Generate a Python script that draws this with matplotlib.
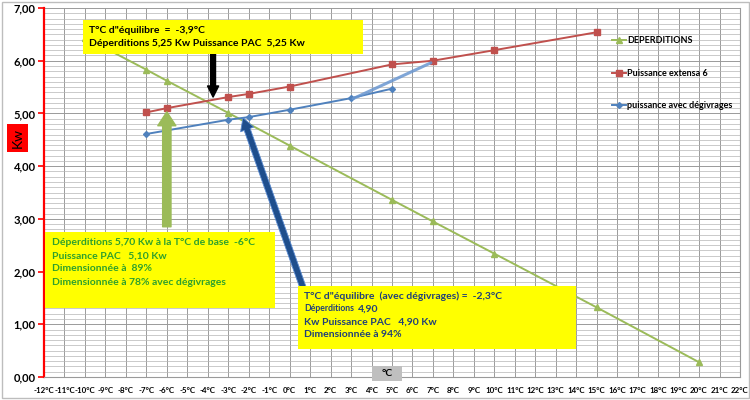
import numpy as np
import matplotlib.pyplot as plt
from matplotlib.patches import Rectangle
from matplotlib.ticker import MultipleLocator, FuncFormatter

plt.rcParams['font.family'] = ['Lato', 'DejaVu Sans']

# Données
t_deperd = [-10, -7, -6, -3, 0, 5, 7, 10, 15, 20]
deperditions = [6.44, 5.83, 5.62, 5.01, 4.39, 3.36, 2.95, 2.34, 1.32, 0.28]

t_pac = [-7, -6, -3, -2, 0, 5, 7, 10, 15]
puissance_pac = [5.02, 5.10, 5.31, 5.37, 5.51, 5.93, 6.00, 6.20, 6.54]

t_degiv = [-7, -3, -2, 0, 3, 5]
puissance_degiv = [4.61, 4.88, 4.93, 5.07, 5.29, 5.47]

vert = '#9BBB59'
rouge = '#C0504D'
bleu = '#4F81BD'

fig = plt.figure(figsize=(7.5, 4), dpi=100)
ax = fig.add_axes([44 / 750, 1 - 377 / 400, 696 / 750, 369 / 400])

# grille
ax.set_xlim(-12, 22)
ax.set_ylim(0, 7)
ax.xaxis.set_major_locator(MultipleLocator(1))
ax.yaxis.set_major_locator(MultipleLocator(1))
ax.yaxis.set_minor_locator(MultipleLocator(0.1))
ax.grid(which='major', color='#9A9A9A', lw=0.7)
ax.grid(which='minor', axis='y', color='#B5B5B5', lw=0.5)
ax.set_axisbelow(True)

ax.plot(t_deperd, deperditions, color=vert, lw=1.4, marker='^', ms=4.5, label='DEPERDITIONS', zorder=3)
ax.plot(t_pac, puissance_pac, color=rouge, lw=1.4, marker='s', ms=4.5, label='Puissance extensa 6', zorder=3)
ax.plot(t_degiv, puissance_degiv, color=bleu, lw=1.4, marker='D', ms=3, label='puissance avec dégivrages', zorder=3)

# trait dessiné à la main (bleu clair)
ax.plot([3.1, 6.9], [5.28, 5.96], color='#6A97D0', lw=2.2, alpha=0.85, zorder=3, solid_capstyle='round')

ax.xaxis.set_major_formatter(FuncFormatter(lambda v, p: f'{int(v)}°C'))
ax.yaxis.set_major_formatter(FuncFormatter(lambda v, p: f'{v:.2f}'.replace('.', ',')))
ax.tick_params(axis='x', labelsize=5.7, length=0, pad=7)
ax.tick_params(axis='y', labelsize=8, length=4, color='red', width=1.2, pad=2)
ax.tick_params(axis='y', which='minor', length=0)
for lab in ax.get_xticklabels() + ax.get_yticklabels():
    lab.set_fontweight('bold')

ax.spines['left'].set_color('red')
ax.spines['left'].set_linewidth(1.6)
ax.spines['bottom'].set_color('#9A9A9A')
ax.spines['top'].set_visible(False)
ax.spines['right'].set_color('#9A9A9A')

leg = ax.legend(loc='upper left', bbox_to_anchor=(0.805, 0.945), frameon=False,
                prop={'weight': 'bold', 'size': 6.5}, labelspacing=2.6,
                handlelength=1.5, handletextpad=0.1)

# encadrés jaunes
def encadre(x0, x1, y0, y1, color='yellow'):
    ax.add_patch(Rectangle((x0, y0), x1 - x0, y1 - y0, facecolor=color,
                           edgecolor='none', zorder=5, clip_on=False))

encadre(-10.1, 3.58, 6.13, 6.77)
ax.text(-9.8, 6.58, 'T°C d"équilibre  =  -3,9°C', fontsize=7.5, fontweight='bold', va='center', zorder=6)
ax.text(-9.8, 6.33, 'Déperditions 5,25 Kw Puissance PAC  5,25 Kw', fontsize=7.5, fontweight='bold', va='center', zorder=6)

encadre(-11.95, -0.72, 1.30, 2.76)
vert_txt = '#2DA02D'
lignes2 = ['Déperditions 5,70 Kw à la T°C de base  -6°C', 'Puissance PAC   5,10 Kw',
           'Dimensionnée à  89%', 'Dimensionnée à 78% avec dégivrages']
for i, s in enumerate(lignes2):
    ax.text(-11.6, 2.55 - i * 0.25, s, fontsize=7.5, fontweight='bold', color=vert_txt, va='center', zorder=6)

encadre(0.41, 13.99, 0.54, 1.72)
bleu_txt = '#1F3F7A'
ax.text(0.7, 1.53, 'T°C d"équilibre  (avec dégivrages) =  -2,3°C', fontsize=7.5, fontweight='bold', color=bleu_txt, va='center', zorder=6)
t_dep = ax.text(0.7, 1.29, 'Déperditions', fontsize=6.2, fontweight='bold', color=bleu_txt, va='center', zorder=6)
ax.annotate('4,90', xy=(1, 0.5), xycoords=t_dep, xytext=(2.5, 0), textcoords='offset points',
            fontsize=7.5, fontweight='bold', color=bleu_txt, va='center', zorder=6)
ax.text(0.7, 1.05, 'Kw Puissance PAC   4,90 Kw', fontsize=7.5, fontweight='bold', color=bleu_txt, va='center', zorder=6)
ax.text(0.7, 0.80, 'Dimensionnée à 94%', fontsize=7.5, fontweight='bold', color=bleu_txt, va='center', zorder=6)

encadre(4.02, 5.49, -0.08, 0.20, color='#BFBFBF')
ax.text(4.75, 0.06, '°C', fontsize=7.5, fontweight='bold', ha='center', va='center', zorder=6)

# flèches
ax.annotate('', xy=(-3.74, 5.31), xytext=(-3.74, 6.13), zorder=4,
            arrowprops=dict(arrowstyle='simple,head_length=0.8,head_width=0.8,tail_width=0.35',
                            color='black', shrinkA=0, shrinkB=0))
ax.annotate('', xy=(-6.0, 5.03), xytext=(-6.0, 2.85), zorder=4,
            arrowprops=dict(arrowstyle='simple,head_length=1.0,head_width=1.3,tail_width=0.6',
                            color=vert, shrinkA=0, shrinkB=0))
ax.annotate('', xy=(-2.28, 4.92), xytext=(0.65, 1.70), zorder=4,
            arrowprops=dict(arrowstyle='simple,head_length=0.9,head_width=1.0,tail_width=0.45',
                            facecolor='#1F4E8C', edgecolor='#5B8BD0', lw=0.6, shrinkA=0, shrinkB=0))

# étiquette Kw
fig.text(17.5 / 750, 1 - 138 / 400, 'Kw', rotation=90, ha='center', va='center', fontsize=10,
         bbox=dict(boxstyle='square,pad=0.3', facecolor='red', edgecolor='none'))

fig.patches.append(Rectangle((0.002, 0.004), 0.996, 0.99, transform=fig.transFigure,
                             fill=False, edgecolor='#BDBDBD', lw=1))

fig.savefig('out.png', dpi=100)
